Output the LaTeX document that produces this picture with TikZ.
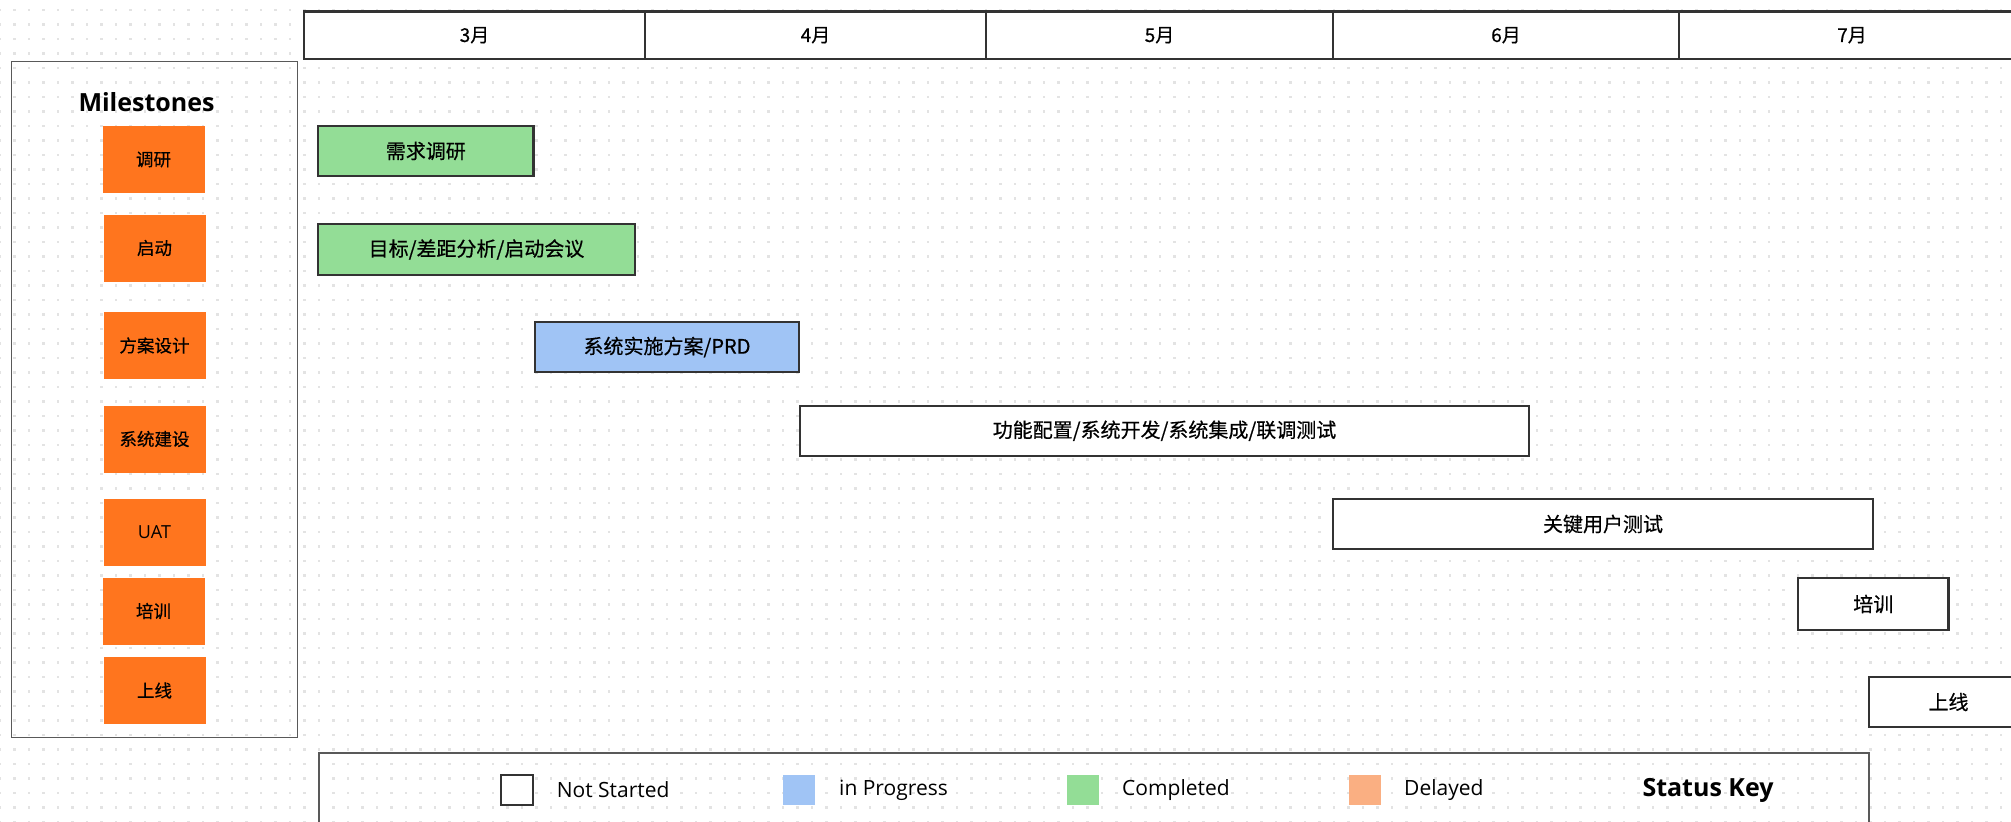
\documentclass[tikz,border=0pt]{standalone}
\usepackage{fontspec}
\setmainfont{Noto Sans CJK SC}[FakeBold=0.5]
\newfontfamily\lat{Open Sans}
\usetikzlibrary{patterns}
\pgfdeclarepatternformonly{bgdots}{\pgfqpoint{-1.3pt}{-1.3pt}}{\pgfqpoint{1.3pt}{1.3pt}}{\pgfqpoint{14.5pt}{14.5pt}}{\pgfpathrectangle{\pgfqpoint{-1.3pt}{-1.3pt}}{\pgfqpoint{2.6pt}{2.6pt}}\pgfusepath{fill}}
\definecolor{donegreen}{HTML}{93DD96}
\definecolor{progblue}{HTML}{A0C4F5}
\definecolor{msorange}{HTML}{FF751E}
\definecolor{delayorange}{HTML}{FAAF82}
\definecolor{edge}{HTML}{333333}
\begin{document}
\begin{tikzpicture}[x=1pt,y=-1pt,
  month/.style={draw=edge, line width=2.2pt, fill=white, minimum height=47.5pt, inner sep=0pt, font=\fontsize{19}{22}\selectfont},
  bar/.style={draw=edge, line width=2.2pt, inner sep=0pt, font=\fontsize{20}{24}\selectfont},
  msbox/.style={fill=msorange, minimum width=102pt, minimum height=67pt, inner sep=0pt, font=\fontsize{17.5}{21}\selectfont},
  swatch/.style={minimum width=32pt, minimum height=30pt, inner sep=0pt},
  keytext/.style={anchor=west, inner sep=0pt, font=\lat\fontsize{21}{25}\selectfont},
  panel/.style={draw=black!65, line width=1.8pt}
]
\useasboundingbox (0,0) rectangle (2011,822);
\clip (0,0) rectangle (2011,822);
\fill[white] (0,0) rectangle (2011,822);
\fill[pattern=bgdots, pattern color=black!11] (0,0) rectangle (2011,822);

% month header
\node[month, minimum width=341pt] (m3) at (474.5,35.25) {3月};
\node[month, minimum width=341pt] (m4) at (815.5,35.25) {4月};
\node[month, minimum width=347pt] (m5) at (1159.5,35.25) {5月};
\node[month, minimum width=346pt] (m6) at (1506,35.25) {6月};
\node[month, minimum width=346pt] (m7) at (1852,35.25) {7月};

% milestones panel
\node[panel, minimum width=286pt, minimum height=676pt, inner sep=0pt] (panel) at (154.5,399.5) {};
\node[font=\lat\bfseries\fontsize{25}{30}\selectfont, inner sep=0pt] (mstitle) at (146.5,102) {Milestones};
\node[msbox] (ms1) at (153.5,159.5) {调研};
\node[msbox] (ms2) at (154.5,248) {启动};
\node[msbox] (ms3) at (154.5,345.5) {方案设计};
\node[msbox] (ms4) at (154.5,439) {系统建设};
\node[msbox, font=\lat\fontsize{18}{21}\selectfont] (ms5) at (154.5,532.5) {UAT};
\node[msbox] (ms6) at (153.5,611) {培训};
\node[msbox] (ms7) at (154.5,690.5) {上线};

% task bars
\node[bar, fill=donegreen, minimum width=215.5pt, minimum height=50pt] (t1) at (425.75,151) {需求调研};
\node[bar, fill=donegreen, minimum width=317pt, minimum height=51pt] (t2) at (476.5,249.5) {目标/差距分析/启动会议};
\node[bar, fill=progblue, minimum width=264pt, minimum height=50pt] (t3) at (667,347) {系统实施方案/PRD};
\node[bar, fill=white, minimum width=729pt, minimum height=50pt] (t4) at (1164.5,430.75) {功能配置/系统开发/系统集成/联调测试};
\node[bar, fill=white, minimum width=540pt, minimum height=50pt] (t5) at (1603,524) {关键用户测试};
\node[bar, fill=white, minimum width=150.5pt, minimum height=52pt] (t6) at (1873.25,604) {培训};
\node[bar, fill=white, minimum width=159pt, minimum height=50pt] (t7) at (1948.5,702) {上线};

% status key
\node[panel, minimum width=1549.6pt, minimum height=90pt, inner sep=0pt] (key) at (1093.8,798) {};
\node[swatch, draw=edge, line width=2pt, fill=white] (s1) at (517,790) {};
\node[keytext] (k1) at (556.6,790) {Not Started};
\node[swatch, fill=progblue] (s2) at (799,790) {};
\node[keytext] (k2) at (839,790) {in Progress};
\node[swatch, fill=donegreen] (s3) at (1082.5,790) {};
\node[keytext] (k3) at (1122,790) {Completed};
\node[swatch, fill=delayorange] (s4) at (1364.5,790) {};
\node[keytext] (k4) at (1404,790) {Delayed};
\node[font=\lat\bfseries\fontsize{25}{30}\selectfont, inner sep=0pt] (kt) at (1708,790) {Status Key};
\end{tikzpicture}
\end{document}
